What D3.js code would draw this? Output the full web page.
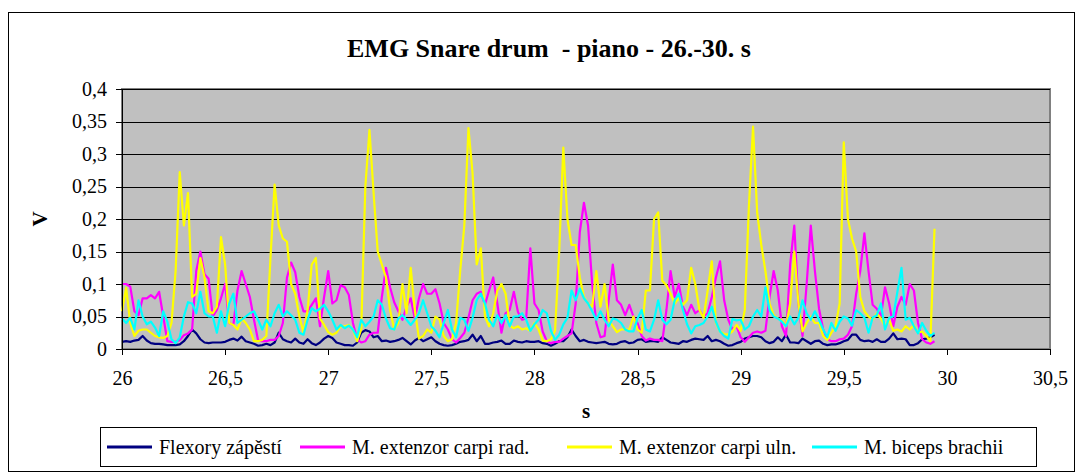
<!DOCTYPE html>
<html>
<head>
<meta charset="utf-8">
<title>EMG Snare drum</title>
<script src="https://d3js.org/d3.v7.min.js"></script>
<style>
html, body {margin: 0; background: #fff; overflow: hidden}
text {font-family: "Liberation Serif", "Times New Roman", serif; fill: #000}
.title {font-weight: bold; white-space: pre}
.axisTitle {font-weight: bold}
.axis path, .axis line {stroke: #000; shape-rendering: crispEdges}
.grid line {stroke: #000; shape-rendering: crispEdges}
.series {fill: none; stroke-width: 2.2; stroke-linejoin: round}
</style>
</head>
<body>
<script>
// sampling of the recording
var startTime = 26;
var timeStep = 0.02;

var xTicks = [26, 26.5, 27, 27.5, 28, 28.5, 29, 29.5, 30, 30.5];
var yTicks = [0, 0.05, 0.1, 0.15, 0.2, 0.25, 0.3, 0.35, 0.4];

var seriesNames = ["Flexory zápěstí", "M. extenzor carpi rad.", "M. extenzor carpi uln.", "M. biceps brachii"];
var seriesColors = ["#000080", "#ff00ff", "#ffff00", "#00ffff"];

var flexory = [
	0.011, 0.012, 0.011, 0.013, 0.014, 0.02, 0.013, 0.009, 0.008, 0.008, 0.007, 0.006, 0.006, 0.006, 0.007, 0.012, 0.02, 0.03, 0.024, 0.015, 0.01, 0.009, 0.01, 0.01, 0.01,
	0.011, 0.014, 0.016, 0.013, 0.019, 0.012, 0.01, 0.008, 0.005, 0.006, 0.008, 0.006, 0.01, 0.025, 0.015, 0.012, 0.01, 0.016, 0.01, 0.008, 0.015, 0.009, 0.006, 0.01, 0.016, 0.02,
	0.017, 0.01, 0.008, 0.006, 0.006, 0.005, 0.01, 0.025, 0.029, 0.027, 0.018, 0.02, 0.012, 0.013, 0.011, 0.012, 0.014, 0.017, 0.012, 0.007, 0.013, 0.017, 0.012, 0.015, 0.018,
	0.012, 0.008, 0.006, 0.005, 0.006, 0.008, 0.011, 0.012, 0.014, 0.022, 0.012, 0.02, 0.008, 0.008, 0.01, 0.011, 0.013, 0.008, 0.008, 0.013, 0.011, 0.01, 0.012, 0.011, 0.011, 0.012,
	0.009, 0.008, 0.005, 0.008, 0.012, 0.012, 0.018, 0.03, 0.02, 0.012, 0.014, 0.011, 0.01, 0.009, 0.01, 0.011, 0.008, 0.007, 0.008, 0.011, 0.012, 0.009, 0.01, 0.014, 0.015,
	0.011, 0.012, 0.012, 0.011, 0.018, 0.014, 0.01, 0.009, 0.008, 0.012, 0.011, 0.014, 0.016, 0.015, 0.014, 0.02, 0.012, 0.014, 0.012, 0.008, 0.005, 0.006, 0.009, 0.011, 0.016, 0.018,
	0.02, 0.02, 0.018, 0.012, 0.009, 0.011, 0.018, 0.012, 0.022, 0.01, 0.01, 0.009, 0.016, 0.012, 0.008, 0.012, 0.013, 0.008, 0.006, 0.007, 0.007, 0.009, 0.012, 0.014, 0.022,
	0.022, 0.014, 0.012, 0.013, 0.011, 0.015, 0.011, 0.011, 0.016, 0.024, 0.015, 0.016, 0.015, 0.006, 0.006, 0.009, 0.015, 0.016, 0.018, 0.022
];

var extenzorRad = [
	0.1, 0.1, 0.096, 0.058, 0.052, 0.078, 0.078, 0.083, 0.078, 0.088, 0.05, 0.012, 0.011, 0.011, 0.014, 0.021, 0.024, 0.03, 0.12, 0.15, 0.115, 0.108, 0.05, 0.06, 0.078,
	0.1, 0.04, 0.037, 0.09, 0.12, 0.1, 0.08, 0.045, 0.013, 0.012, 0.012, 0.014, 0.014, 0.02, 0.04, 0.11, 0.133, 0.118, 0.08, 0.058, 0.058, 0.068, 0.078, 0.035, 0.08, 0.12,
	0.07, 0.075, 0.098, 0.095, 0.083, 0.04, 0.015, 0.01, 0.012, 0.022, 0.025, 0.025, 0.08, 0.125, 0.095, 0.072, 0.058, 0.045, 0.065, 0.078, 0.047, 0.078, 0.1, 0.085, 0.085,
	0.092, 0.07, 0.04, 0.03, 0.015, 0.01, 0.017, 0.025, 0.048, 0.075, 0.085, 0.088, 0.068, 0.09, 0.11, 0.07, 0.025, 0.055, 0.06, 0.088, 0.057, 0.045, 0.047, 0.155, 0.07, 0.06,
	0.027, 0.012, 0.009, 0.011, 0.011, 0.016, 0.02, 0.024, 0.07, 0.18, 0.225, 0.19, 0.1, 0.04, 0.018, 0.02, 0.075, 0.13, 0.075, 0.068, 0.052, 0.068, 0.05, 0.04, 0.02,
	0.013, 0.016, 0.014, 0.014, 0.012, 0.06, 0.12, 0.08, 0.1, 0.065, 0.052, 0.068, 0.055, 0.06, 0.05, 0.055, 0.08, 0.11, 0.135, 0.075, 0.045, 0.03, 0.035, 0.018, 0.011, 0.018,
	0.025, 0.027, 0.025, 0.028, 0.08, 0.12, 0.09, 0.035, 0.02, 0.13, 0.19, 0.07, 0.02, 0.1, 0.19, 0.12, 0.062, 0.03, 0.015, 0.012, 0.012, 0.015, 0.016, 0.022, 0.035,
	0.085, 0.12, 0.178, 0.12, 0.068, 0.062, 0.05, 0.095, 0.07, 0.035, 0.065, 0.08, 0.068, 0.1, 0.09, 0.04, 0.015, 0.01, 0.008, 0.012
];

var extenzorUln = [
	0.058, 0.094, 0.04, 0.02, 0.028, 0.03, 0.03, 0.025, 0.02, 0.018, 0.017, 0.02, 0.04, 0.12, 0.272, 0.19, 0.24, 0.08, 0.085, 0.14, 0.11, 0.058, 0.055, 0.065, 0.172,
	0.13, 0.04, 0.037, 0.03, 0.047, 0.04, 0.03, 0.012, 0.012, 0.014, 0.02, 0.14, 0.253, 0.19, 0.17, 0.165, 0.1, 0.085, 0.05, 0.025, 0.06, 0.13, 0.14, 0.047, 0.037, 0.026,
	0.022, 0.025, 0.035, 0.035, 0.037, 0.03, 0.012, 0.03, 0.25, 0.337, 0.24, 0.15, 0.13, 0.11, 0.06, 0.03, 0.04, 0.1, 0.055, 0.125, 0.06, 0.016, 0.02, 0.03, 0.025,
	0.05, 0.045, 0.02, 0.012, 0.015, 0.04, 0.12, 0.19, 0.34, 0.27, 0.13, 0.155, 0.05, 0.035, 0.055, 0.09, 0.1, 0.085, 0.036, 0.032, 0.035, 0.03, 0.032, 0.028, 0.04, 0.03,
	0.013, 0.012, 0.015, 0.028, 0.15, 0.31, 0.2, 0.16, 0.16, 0.11, 0.08, 0.07, 0.065, 0.12, 0.065, 0.1, 0.045, 0.035, 0.026, 0.03, 0.03, 0.03, 0.05, 0.03, 0.025,
	0.09, 0.09, 0.2, 0.21, 0.105, 0.098, 0.085, 0.07, 0.078, 0.068, 0.075, 0.125, 0.1, 0.06, 0.048, 0.09, 0.135, 0.04, 0.027, 0.023, 0.022, 0.027, 0.037, 0.028, 0.06, 0.22,
	0.342, 0.21, 0.16, 0.12, 0.07, 0.052, 0.047, 0.045, 0.035, 0.07, 0.15, 0.07, 0.027, 0.04, 0.05, 0.04, 0.04, 0.02, 0.014, 0.025, 0.035, 0.07, 0.318, 0.2, 0.17,
	0.15, 0.08, 0.058, 0.05, 0.045, 0.055, 0.047, 0.035, 0.045, 0.028, 0.03, 0.027, 0.035, 0.03, 0.037, 0.025, 0.027, 0.02, 0.012, 0.185
];

var biceps = [
	0.047, 0.04, 0.048, 0.03, 0.075, 0.05, 0.038, 0.042, 0.033, 0.02, 0.058, 0.042, 0.015, 0.009, 0.018, 0.05, 0.072, 0.07, 0.055, 0.088, 0.055, 0.05, 0.05, 0.025, 0.058,
	0.035, 0.07, 0.085, 0.04, 0.045, 0.05, 0.055, 0.058, 0.045, 0.03, 0.045, 0.035, 0.055, 0.068, 0.05, 0.058, 0.052, 0.045, 0.025, 0.022, 0.045, 0.063, 0.058, 0.062, 0.068, 0.058,
	0.045, 0.03, 0.037, 0.032, 0.036, 0.03, 0.018, 0.045, 0.035, 0.042, 0.05, 0.075, 0.068, 0.047, 0.032, 0.03, 0.047, 0.052, 0.045, 0.037, 0.045, 0.055, 0.075, 0.055, 0.035,
	0.028, 0.018, 0.04, 0.06, 0.03, 0.018, 0.048, 0.045, 0.028, 0.048, 0.075, 0.085, 0.07, 0.045, 0.035, 0.052, 0.04, 0.052, 0.035, 0.05, 0.05, 0.055, 0.045, 0.028, 0.038, 0.045,
	0.06, 0.055, 0.028, 0.014, 0.022, 0.038, 0.048, 0.09, 0.075, 0.093, 0.078, 0.07, 0.058, 0.045, 0.058, 0.045, 0.035, 0.047, 0.045, 0.04, 0.03, 0.027, 0.027, 0.047, 0.06,
	0.03, 0.027, 0.045, 0.075, 0.045, 0.038, 0.045, 0.075, 0.085, 0.06, 0.038, 0.024, 0.035, 0.037, 0.04, 0.05, 0.065, 0.042, 0.027, 0.02, 0.016, 0.046, 0.044, 0.045, 0.03, 0.035,
	0.05, 0.06, 0.05, 0.095, 0.06, 0.05, 0.047, 0.042, 0.035, 0.05, 0.038, 0.048, 0.075, 0.055, 0.045, 0.058, 0.045, 0.03, 0.018, 0.04, 0.028, 0.042, 0.05, 0.047, 0.036,
	0.06, 0.055, 0.048, 0.025, 0.048, 0.052, 0.07, 0.03, 0.048, 0.05, 0.088, 0.125, 0.045, 0.048, 0.035, 0.024, 0.04, 0.028, 0.02, 0.025
];

var seriesValues = [flexory, extenzorRad, extenzorUln, biceps];

var width = 1081, height = 474;
var plot = {left: 122, right: 1050, top: 89, bottom: 349};

var svg = d3.select("body").append("svg")
	.attr("width", width)
	.attr("height", height);

// outer chart frame
svg.append("rect")
	.attr("x", 8.5).attr("y", 12.5)
	.attr("width", 1066).attr("height", 459)
	.attr("fill", "#fff")
	.attr("stroke", "#000");

svg.append("text")
	.attr("class", "title")
	.attr("x", 549).attr("y", 57)
	.attr("text-anchor", "middle")
	.attr("font-size", 26)
	.text("EMG Snare drum  - piano - 26.-30. s");

var x = d3.scaleLinear().domain([26, 30.5]).range([plot.left, plot.right]);
var y = d3.scaleLinear().domain([0, 0.4]).range([plot.bottom, plot.top]);

function comma(d) { return String(d).replace(".", ","); }

svg.append("rect")
	.attr("x", plot.left).attr("y", plot.top)
	.attr("width", plot.right - plot.left).attr("height", plot.bottom - plot.top)
	.attr("fill", "#c0c0c0")
	.attr("stroke", "#808080")
	.attr("stroke-width", 2);

svg.append("g")
	.attr("class", "grid")
	.selectAll("line")
	.data(yTicks.filter(function(d){ return d > 0; }))
	.enter().append("line")
	.attr("x1", plot.left).attr("x2", plot.right)
	.attr("y1", function(d){ return Math.round(y(d)) + 0.5; })
	.attr("y2", function(d){ return Math.round(y(d)) + 0.5; });

var line = d3.line()
	.x(function(d, i){ return x(startTime + i * timeStep); })
	.y(function(d){ return y(d); });

svg.append("g")
	.selectAll("path")
	.data(seriesValues)
	.enter().append("path")
	.attr("class", "series")
	.attr("stroke", function(d, i){ return seriesColors[i]; })
	.attr("d", line);

svg.append("g")
	.attr("class", "axis")
	.attr("transform", "translate(" + plot.left + ",0)")
	.call(d3.axisLeft(y).tickValues(yTicks).tickFormat(comma).tickSize(6).tickPadding(9));

svg.append("g")
	.attr("class", "axis")
	.attr("transform", "translate(0," + plot.bottom + ")")
	.call(d3.axisBottom(x).tickValues(xTicks).tickFormat(comma).tickSize(6).tickPadding(16));

svg.selectAll(".axis text")
	.attr("font-size", 20)
	.attr("font-family", "Liberation Serif, Times New Roman, serif");

svg.append("text")
	.attr("class", "axisTitle")
	.attr("transform", "translate(47,219) rotate(-90)")
	.attr("text-anchor", "middle")
	.attr("font-size", 21)
	.text("V");

svg.append("text")
	.attr("class", "axisTitle")
	.attr("x", 586).attr("y", 418)
	.attr("text-anchor", "middle")
	.attr("font-size", 21)
	.text("s");

// legend
var legendX = [107, 300, 567, 812];
var legend = svg.append("g");
legend.append("rect")
	.attr("x", 100.5).attr("y", 427.5)
	.attr("width", 936).attr("height", 39)
	.attr("fill", "#fff")
	.attr("stroke", "#000");

var items = legend.selectAll(".item")
	.data(seriesNames)
	.enter().append("g")
	.attr("class", "item")
	.attr("transform", function(d, i){ return "translate(" + legendX[i] + ",447)"; });

items.append("line")
	.attr("x1", 0).attr("x2", 45)
	.attr("stroke-width", 3)
	.attr("stroke", function(d, i){ return seriesColors[i]; });

items.append("text")
	.attr("x", 52).attr("dy", "0.35em")
	.attr("font-size", 20)
	.text(function(d){ return d; });
</script>
</body>
</html>
